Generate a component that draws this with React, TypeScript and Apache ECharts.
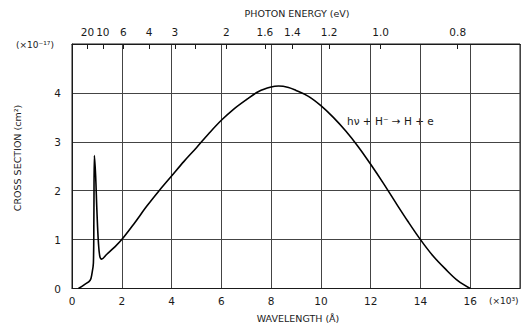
import React, { useEffect, useRef } from "react";
import * as echarts from "echarts";

// wavelength in units of 10^3 Å
const wavelength = [0.26, 0.5, 0.73, 0.8, 0.86, 0.88, 0.9, 0.95, 1.0, 1.06, 1.12, 1.19, 1.4, 1.7, 2.0, 2.5, 3.0, 3.5, 4.0, 4.5, 5.0, 5.5, 6.0, 6.5, 7.0, 7.5, 8.0, 8.3, 8.7, 9.0, 9.5, 10.0, 10.5, 11.0, 11.5, 12.0, 12.5, 13.0, 13.5, 14.0, 14.5, 15.0, 15.5, 16.0];
// cross section in units of 10^-17 cm^2
const crossSection = [0, 0.08, 0.17, 0.3, 0.52, 1.5, 2.72, 2.3, 1.6, 0.95, 0.65, 0.6, 0.7, 0.84, 1.0, 1.33, 1.68, 2.0, 2.3, 2.6, 2.88, 3.17, 3.44, 3.67, 3.86, 4.03, 4.12, 4.14, 4.11, 4.05, 3.93, 3.74, 3.5, 3.22, 2.9, 2.54, 2.16, 1.76, 1.37, 1.0, 0.67, 0.4, 0.16, 0.0];

const xTicks = [0, 2, 4, 6, 8, 10, 12, 14, 16];
const yTicks = [0, 1, 2, 3, 4];
const energyLabels = [20, 10, 6, 4, 3, 2, 1.6, 1.4, 1.2, 1.0, 0.8];
const energyTicks = [20, 10, 6, 4, 3, 2.5, 2, 1.6, 1.4, 1.2, 1.0, 0.8];
const HC = 12.398; // eV * 10^3 Å

const FONT = "DejaVu Sans";
const INK = "#1a1a1a";

export default function App() {
  const ref = useRef<HTMLDivElement>(null);
  useEffect(() => {
    document.body.style.margin = "0";
    if (!ref.current) return;
    const chart = echarts.init(ref.current, null, { renderer: "svg" });
    const toLambda = (e: number) => HC / e;
    const fmtEnergy = (v: number) => {
      let best = energyLabels[0];
      for (const e of energyLabels) {
        if (Math.abs(toLambda(e) - v) < Math.abs(toLambda(best) - v)) best = e;
      }
      return best >= 2 ? String(best) : best.toFixed(1);
    };
    chart.setOption({
      animation: false,
      backgroundColor: "#fff",
      grid: {
        left: 72,
        right: 1,
        top: 44,
        bottom: 38.5,
        show: true,
        borderColor: INK,
        borderWidth: 1,
        backgroundColor: "transparent",
      },
      xAxis: [
        {
          type: "value",
          min: 0,
          max: 18,
          interval: 2,
          position: "bottom",
          axisLine: { show: true, lineStyle: { color: INK, width: 1 } },
          axisTick: { show: false },
          splitLine: { show: true, lineStyle: { color: "#444", width: 1 } },
          axisLabel: {
            margin: 7,
            color: INK,
            fontFamily: FONT,
            fontSize: 10.5,
            formatter: (v: number) => (xTicks.includes(v) ? String(v) : ""),
          },
        },
        {
          type: "value",
          min: 0,
          max: 18,
          position: "top",
          axisLine: { show: true, lineStyle: { color: INK, width: 1 } },
          splitLine: { show: false },
          axisTick: {
            show: true,
            inside: true,
            length: 5,
            lineStyle: { color: INK, width: 1 },
            customValues: energyTicks.map(toLambda),
          },
          axisLabel: {
            margin: 7,
            color: INK,
            fontFamily: FONT,
            fontSize: 10.5,
            customValues: energyLabels.map(toLambda),
            formatter: (v: number) => fmtEnergy(v),
          },
        },
      ],
      yAxis: {
        type: "value",
        min: 0,
        max: 5,
        interval: 1,
        axisLine: { show: true, lineStyle: { color: INK, width: 1 } },
        axisTick: { show: false },
        splitLine: { show: true, lineStyle: { color: "#444", width: 1 } },
        axisLabel: {
          margin: 11,
          color: INK,
          fontFamily: FONT,
          fontSize: 10.5,
          formatter: (v: number) => (yTicks.includes(v) ? String(v) : ""),
        },
      },
      series: [
        {
          type: "line",
          xAxisIndex: 0,
          data: wavelength.map((x, i) => [x, crossSection[i]]),
          showSymbol: false,
          smooth: 0.35,
          lineStyle: { color: "#000", width: 1.6 },
        },
      ],
      graphic: [
        {
          type: "text",
          x: 297,
          y: 13,
          style: {
            text: "PHOTON ENERGY (eV)",
            fill: INK,
            font: `9.5px "${FONT}"`,
            align: "center",
            verticalAlign: "middle",
          },
        },
        {
          type: "text",
          x: 298,
          y: 318,
          style: {
            text: "WAVELENGTH (Å)",
            fill: INK,
            font: `9.5px "${FONT}"`,
            align: "center",
            verticalAlign: "middle",
          },
        },
        {
          type: "text",
          x: 489,
          y: 301,
          style: {
            text: "(×10³)",
            fill: INK,
            font: `9px "${FONT}"`,
            align: "left",
            verticalAlign: "middle",
          },
        },
        {
          type: "text",
          x: 16,
          y: 45,
          style: {
            text: "(×10⁻¹⁷)",
            fill: INK,
            font: `9px "${FONT}"`,
            align: "left",
            verticalAlign: "middle",
          },
        },
        {
          type: "text",
          x: 17,
          y: 158,
          rotation: Math.PI / 2,
          style: {
            text: "CROSS SECTION (cm²)",
            fill: INK,
            font: `9.5px "${FONT}"`,
            align: "center",
            verticalAlign: "middle",
          },
        },
        {
          type: "text",
          x: 347,
          y: 121,
          style: {
            text: "hν + H⁻ → H + e",
            fill: INK,
            font: `10.5px "${FONT}"`,
            align: "left",
            verticalAlign: "middle",
          },
        },
      ],
    });
    return () => chart.dispose();
  }, []);
  return <div ref={ref} style={{ width: 523, height: 327 }} />;
}
